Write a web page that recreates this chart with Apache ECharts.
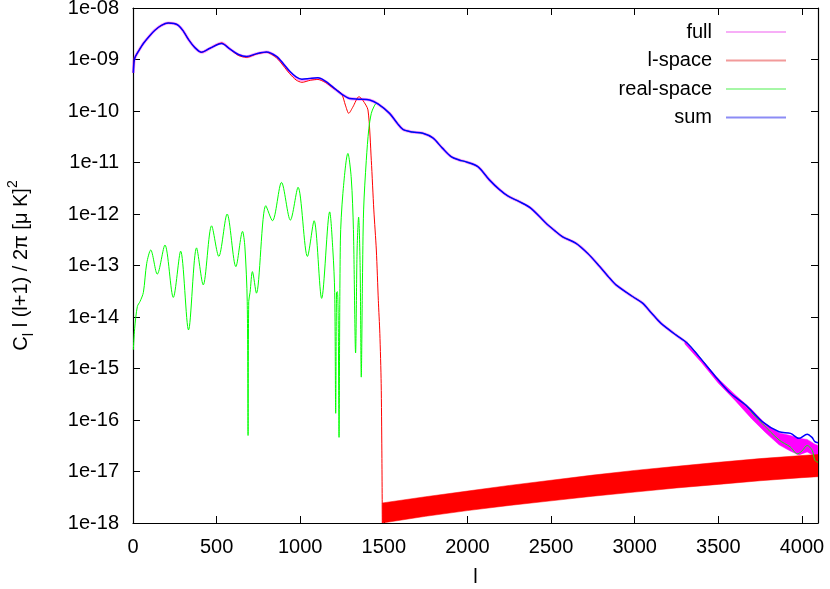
<!DOCTYPE html>
<html><head><meta charset="utf-8">
<script src="https://cdn.jsdelivr.net/npm/echarts@6/dist/echarts.min.js"></script>
<style>html,body{margin:0;padding:0;background:#fff}#c{width:830px;height:589px}</style>
</head><body><div id="c"></div>
<script>
// ---- data (multipole l, C_l l(l+1)/2pi) ----
const sumL = [2,6,12,30,62,100,131,170,211,245,271,300,330,370,410,460,530,579,630,679,740,798,858,900,937,975,1010,1060,1106,1150,1196,1250,1295,1350,1415,1465,1534,1580,1614,1670,1733,1793,1850,1902,1950,1992,2062,2131,2190,2241,2310,2380,2470,2520,2569,2649,2718,2788,2840,2888,2987,3047,3100,3156,3246,3315,3385,3475,3564,3664,3763,3863,3932,3982,4031,4060,4077,4096];
const sumV = [5.5e-10,9e-10,1.1e-9,1.4e-9,2.05e-9,2.9e-9,3.7e-9,4.6e-9,5.1e-9,5.0e-9,4.6e-9,3.6e-9,2.5e-9,1.7e-9,1.38e-9,1.65e-9,2.05e-9,1.6e-9,1.25e-9,1.14e-9,1.3e-9,1.4e-9,1.15e-9,8.2e-10,5.9e-10,4.6e-10,4.15e-10,4.3e-10,4.4e-10,3.8e-10,2.9e-10,2.1e-10,1.75e-10,1.7e-10,1.64e-10,1.37e-10,9e-11,5.8e-11,4.4e-11,3.9e-11,3.7e-11,3.0e-11,1.9e-11,1.3e-11,1.12e-11,1.03e-11,8.3e-12,4.6e-12,3.0e-12,2.24e-12,1.74e-12,1.29e-12,6.6e-13,4.8e-13,3.6e-13,2.7e-13,1.73e-13,9.8e-14,6.2e-14,4.2e-14,2.5e-14,1.86e-14,1.2e-14,7.6e-15,4.5e-15,3.1e-15,1.7e-15,7.5e-16,3.5e-16,1.95e-16,9.3e-17,5.9e-17,5.5e-17,4.4e-17,5.3e-17,4.6e-17,3.8e-17,3.6e-17];

const fullL = [2,6,12,30,62,100,131,170,211,245,271,300,330,370,410,460,530,579,630,679,740,798,858,900,937,975,1010,1060,1106,1150,1196,1250,1295,1350,1415,1465,1534,1580,1614,1670,1733,1793,1850,1902,1950,1992,2062,2131,2190,2241,2310,2380,2470,2520,2569,2649,2718,2788,2840,2888,2987,3047,3100,3156,3246,3315];
const fullV = [5.5e-10,9e-10,1.1e-9,1.4e-9,2.05e-9,2.9e-9,3.7e-9,4.6e-9,5.1e-9,5.0e-9,4.6e-9,3.6e-9,2.5e-9,1.7e-9,1.38e-9,1.65e-9,2.08e-9,1.6e-9,1.25e-9,1.13e-9,1.3e-9,1.4e-9,1.13e-9,8.0e-10,5.7e-10,4.4e-10,4.0e-10,4.2e-10,4.3e-10,3.75e-10,2.85e-10,2.1e-10,1.75e-10,1.7e-10,1.64e-10,1.37e-10,9e-11,5.8e-11,4.4e-11,3.9e-11,3.7e-11,3.0e-11,1.9e-11,1.3e-11,1.12e-11,1.03e-11,8.3e-12,4.6e-12,3.0e-12,2.24e-12,1.74e-12,1.29e-12,6.6e-13,4.8e-13,3.6e-13,2.7e-13,1.73e-13,9.8e-14,6.2e-14,4.2e-14,2.5e-14,1.86e-14,1.2e-14,7.6e-15,4.5e-15,3.1e-15];
// scatter band of the full result at high l
const fullBandL = [3300,3400,3500,3600,3700,3780,3863,3930,3982,4031,4077,4096];
const fullBandHi = [3.3e-15,1.5e-15,6.3e-16,3.1e-16,1.6e-16,8.5e-17,5.6e-17,5.0e-17,4.4e-17,4.2e-17,3.4e-17,3.2e-17];
const fullBandLo = [3.0e-15,1.3e-15,5.2e-16,2.4e-16,1.05e-16,5.8e-17,3.3e-17,2.5e-17,2.1e-17,2.4e-17,2.0e-17,1.9e-17];

const lspaceL = [2,6,12,30,62,100,131,170,211,245,271,300,330,370,410,460,530,579,630,679,740,798,858,900,937,975,1010,1060,1106,1150,1196,1246,1270,1290,1315,1351,1375,1405,1425,1440,1455,1467,1476,1484,1488,1491];
const lspaceV = [5.5e-10,9e-10,1.1e-9,1.4e-9,2.05e-9,2.9e-9,3.7e-9,4.6e-9,5.1e-9,5.0e-9,4.6e-9,3.6e-9,2.5e-9,1.7e-9,1.38e-9,1.65e-9,2.1e-9,1.6e-9,1.2e-9,1.1e-9,1.28e-9,1.38e-9,1.08e-9,7.5e-10,5.3e-10,4.0e-10,3.6e-10,3.95e-10,4.1e-10,3.6e-10,2.8e-10,2.2e-10,1.3e-10,9.0e-11,1.2e-10,1.9e-10,1.6e-10,1.05e-10,1.1e-11,1.2e-12,2.0e-13,2.1e-14,4.8e-15,5.1e-16,2.6e-17,1e-18];
// numerical-noise band of the l-space result
const lspaceBandL = [1491,1750,2000,2250,2500,2750,3000,3250,3500,3750,4000,4096];
const lspaceBandHi = [2.45e-18,3.24e-18,4.17e-18,5.37e-18,6.76e-18,8.51e-18,1.05e-17,1.26e-17,1.51e-17,1.78e-17,2.04e-17,2.14e-17];
const lspaceBandLo = [1.0e-18,1.35e-18,1.74e-18,2.19e-18,2.69e-18,3.31e-18,3.98e-18,4.79e-18,5.62e-18,6.61e-18,7.59e-18,7.94e-18];

const realL = [2,10,26,42,62,82,106,145,191,241,285,332,380,420,470,513,563,615,655,669,683,688,692,700,714,738,794,834,888,941,987,1043,1083,1128,1176,1195,1206,1212,1217,1222,1227,1232,1240,1255,1285,1305,1318,1331,1340,1349,1358,1365,1372,1379,1395,1410,1425,1440,1455,1465,1534,1580,1614,1670,1733,1793,1850,1902,1950,1992,2062,2131,2190,2241,2310,2380,2470,2520,2569,2649,2718,2788,2840,2888,2987,3047,3100,3156,3246,3315,3385,3475,3564,3664,3723,3763,3863,3930,3972,4000,4031,4061,4077,4096];
const realV = [2.3e-15,6e-15,1.6e-14,2.0e-14,3.0e-14,1.1e-13,2.0e-13,6.8e-14,2.5e-13,2.4e-14,1.9e-13,5.6e-15,2.2e-13,4.2e-14,5.9e-13,1.5e-13,1.0e-12,9.5e-14,4.6e-13,2.3e-13,2e-14,5e-17,2e-14,3e-14,7.6e-14,2.9e-14,1.45e-12,7.4e-13,4.1e-12,7.6e-13,3.3e-12,1.5e-13,7.4e-13,2.3e-14,1.1e-12,2e-13,3e-14,1.35e-16,3e-14,3.1e-14,1e-14,4.6e-17,3e-13,2.5e-12,1.5e-11,5e-12,5e-13,2e-15,2e-13,8.7e-13,1e-13,6.8e-16,5e-14,1.2e-12,1.1e-11,4.5e-11,9e-11,1.2e-10,1.4e-10,1.37e-10,9e-11,5.8e-11,4.4e-11,3.9e-11,3.7e-11,3.0e-11,1.9e-11,1.3e-11,1.12e-11,1.03e-11,8.3e-12,4.6e-12,3.0e-12,2.24e-12,1.74e-12,1.29e-12,6.6e-13,4.8e-13,3.6e-13,2.7e-13,1.73e-13,9.8e-14,6.2e-14,4.2e-14,2.5e-14,1.86e-14,1.2e-14,7.6e-15,4.5e-15,3.1e-15,1.7e-15,7.5e-16,3.5e-16,1.9e-16,1.15e-16,8.5e-17,4.1e-17,3.0e-17,2.2e-17,2.5e-17,3.2e-17,2.6e-17,1.66e-17,1.5e-17];

const seriesNames = ['full','l-space','real-space','sum'];
const seriesColors = ['#ff00ff','#ff0000','#00ff00','#0000ff'];
const legendColors = ['#f7aef7','#f29a9a','#a6f7a6','#8c8cf5'];
const yTickLabels = ['1e-18','1e-17','1e-16','1e-15','1e-14','1e-13','1e-12','1e-11','1e-10','1e-09','1e-08'];
const xMin = 0, xMax = 4096, xStep = 500;
const yMin = 1e-18, yMax = 1e-8;

// ---- chart ----
const FONT = 'Liberation Sans';
const pairs = (L, V) => L.map((l, i) => [l, V[i]]);
function band(L, HI, LO, color) {
  return function (params, api) {
    if (params.dataIndex !== 0) return null;
    const pts = [];
    for (let i = 0; i < L.length; i++) pts.push(api.coord([L[i], HI[i]]));
    for (let i = L.length - 1; i >= 0; i--) pts.push(api.coord([L[i], LO[i]]));
    return { type: 'polygon', shape: { points: pts }, style: { fill: color, stroke: color, lineWidth: 0.5 } };
  };
}
const yLabelFmt = v => { const e = Math.round(Math.log10(v)); return yTickLabels[e + 18] || ''; };
const tickStyle = { show: true, inside: true, length: 7, lineStyle: { color: '#000', width: 1 } };
const lineAxis = { show: true, onZero: false, lineStyle: { color: '#000', width: 1.2 } };

const chart = echarts.init(document.getElementById('c'), null, { renderer: 'canvas' });
chart.setOption({
  animation: false,
  backgroundColor: '#fff',
  textStyle: { fontFamily: FONT },
  grid: { left: 133, right: 12, top: 8, bottom: 66, containLabel: false, outerBoundsMode: 'none' },
  legend: {
    orient: 'vertical', right: 39, top: 17, align: 'right',
    itemWidth: 60, itemHeight: 2, itemGap: 8.5,
    textStyle: { fontFamily: FONT, fontSize: 20, color: '#000', lineHeight: 20, padding: [0, 9, 0, 0] },
    data: seriesNames.map((n, i) => ({ name: n, icon: 'rect', itemStyle: { color: legendColors[i] } })),
    selectedMode: false
  },
  xAxis: [
    { type: 'value', min: xMin, max: xMax, interval: xStep, position: 'bottom',
      name: 'l', nameLocation: 'middle', nameGap: 44,
      nameTextStyle: { fontFamily: FONT, fontSize: 20, color: '#000' },
      axisLine: lineAxis, axisTick: tickStyle, splitLine: { show: false },
      axisLabel: { fontFamily: FONT, fontSize: 20, color: '#000', margin: 14, showMaxLabel: false, formatter: v => String(v) } },
    { type: 'value', min: xMin, max: xMax, interval: xStep, position: 'top',
      axisLine: lineAxis, axisTick: tickStyle, splitLine: { show: false }, axisLabel: { show: false } }
  ],
  yAxis: [
    { type: 'log', logBase: 10, min: yMin, max: yMax, interval: 1, position: 'left',
      name: 'C{sub|l} l (l+1) / 2π [μ K]{sup|2}', nameLocation: 'middle', nameGap: 97, nameRotate: 90,
      nameTextStyle: { fontFamily: FONT, fontSize: 20, color: '#000', lineHeight: 30,
        rich: { sub: { fontFamily: FONT, fontSize: 15, color: '#000', verticalAlign: 'bottom', lineHeight: 30 },
                sup: { fontFamily: FONT, fontSize: 14, color: '#000', verticalAlign: 'top', lineHeight: 30 } } },
      axisLine: lineAxis, axisTick: tickStyle, splitLine: { show: false }, minorTick: { show: false },
      axisLabel: { fontFamily: FONT, fontSize: 20, color: '#000', margin: 14, formatter: yLabelFmt } },
    { type: 'log', logBase: 10, min: yMin, max: yMax, interval: 1, position: 'right',
      axisLine: lineAxis, axisTick: tickStyle, splitLine: { show: false }, axisLabel: { show: false } }
  ],
  series: [
    { name: 'full', type: 'line', data: pairs(fullL, fullV), showSymbol: false, symbol: 'none', smooth: 0.3,
      lineStyle: { color: seriesColors[0], width: 3, opacity: 0.4 }, silent: true },
    { name: 'full', type: 'custom', data: [[fullBandL[0], fullBandHi[0]]], renderItem: band(fullBandL, fullBandHi, fullBandLo, seriesColors[0]),
      silent: true, clip: true },
    { name: 'l-space', type: 'line', data: pairs(lspaceL, lspaceV), showSymbol: false, symbol: 'none', smooth: 0.25,
      lineStyle: { color: seriesColors[1], width: 1 }, silent: true },
    { name: 'l-space', type: 'custom', data: [[lspaceBandL[0], lspaceBandHi[0]]], renderItem: band(lspaceBandL, lspaceBandHi, lspaceBandLo, seriesColors[1]),
      silent: true, clip: true },
    { name: 'real-space', type: 'line', data: pairs(realL, realV), showSymbol: false, symbol: 'none', smooth: 0.3,
      lineStyle: { color: seriesColors[2], width: 1 }, silent: true },
    { name: 'sum', type: 'line', data: pairs(sumL, sumV), showSymbol: false, symbol: 'none', smooth: 0.3,
      lineStyle: { color: seriesColors[3], width: 1.5 }, silent: true }
  ]
});
</script>
</body></html>
